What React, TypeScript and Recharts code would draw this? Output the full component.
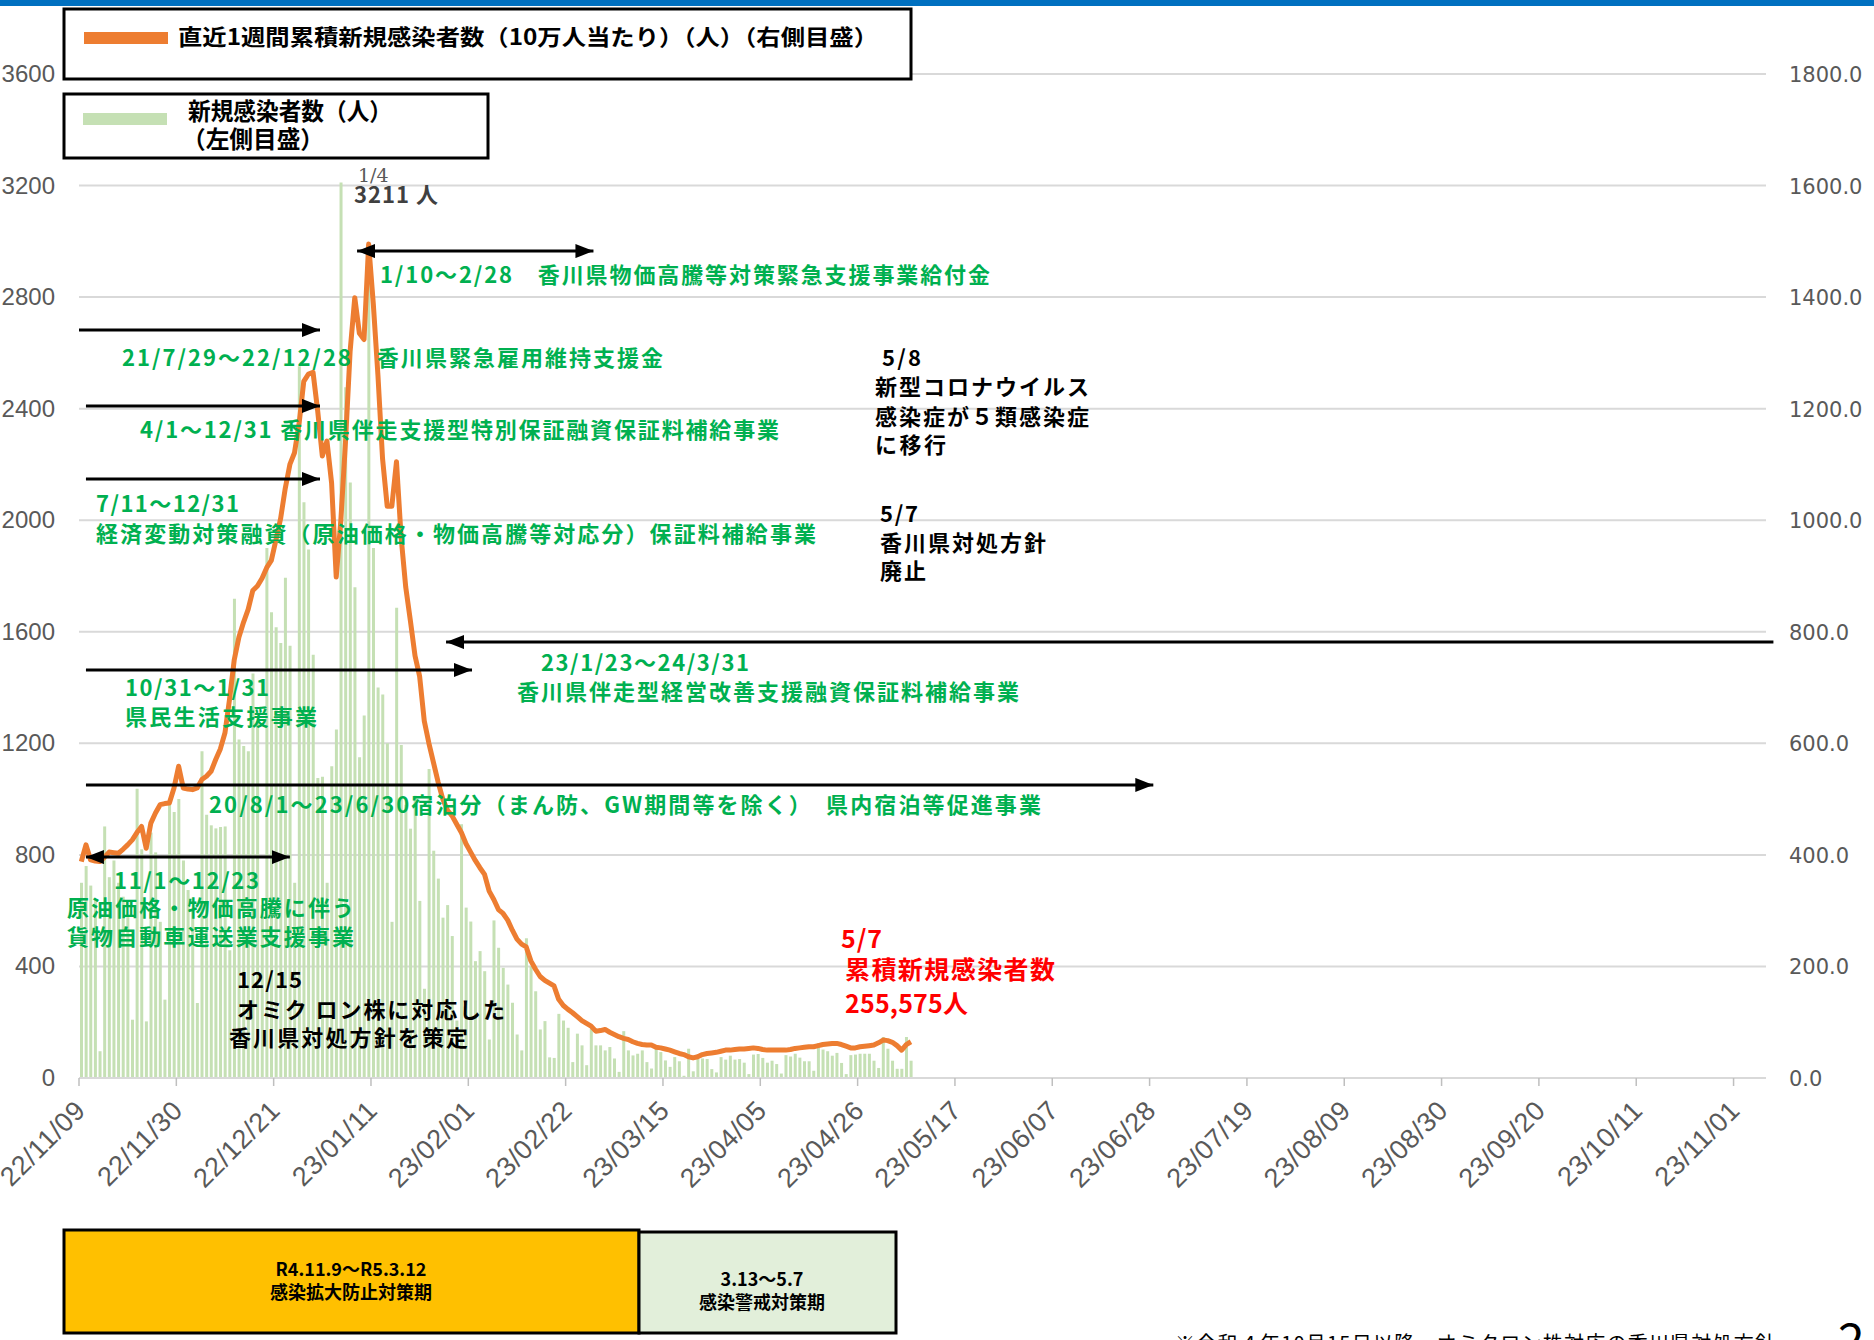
import React from 'react';
import { ComposedChart, Bar, Line, XAxis, YAxis, CartesianGrid, ReferenceLine } from 'recharts';

// day index 0 = 22/11/09
const tickDays = [0, 21, 42, 63, 84, 105, 126, 147, 168, 189, 210, 231, 252, 273, 294, 315, 336, 357];
const tickLabels = [
    '22/11/09', '22/11/30', '22/12/21', '23/01/11', '23/02/01', '23/02/22', '23/03/15', '23/04/05', '23/04/26',
    '23/05/17', '23/06/07', '23/06/28', '23/07/19', '23/08/09', '23/08/30', '23/09/20', '23/10/11', '23/11/01',
];
const leftTicks = [0, 400, 800, 1200, 1600, 2000, 2400, 2800, 3200, 3600];
const rightTicks = [0, 200, 400, 600, 800, 1000, 1200, 1400, 1600, 1800];

// 新規感染者数（人） 22/11/09 - 23/05/07
const cases = [
    700, 760, 690, 640, 96, 902, 720, 780, 700, 650,
    580, 209, 1037, 820, 203, 880, 809, 560, 281, 986,
    954, 1000, 780, 674, 600, 269, 1172, 944, 906, 895,
    900, 902, 458, 1718, 1214, 1190, 1172, 1450, 1280, 620,
    1900, 1670, 1616, 1560, 1794, 1550, 700, 2552, 2064, 1895,
    1518, 1076, 1080, 700, 1118, 1250, 3211, 2477, 2135, 1760,
    1150, 1300, 2950, 1900, 1400, 1375, 1200, 560, 1686, 1194,
    980, 894, 1012, 635, 320, 1108, 815, 715, 575, 620,
    509, 206, 910, 611, 561, 419, 455, 383, 138, 565,
    467, 395, 335, 270, 156, 99, 501, 401, 311, 174,
    204, 74, 72, 230, 206, 180, 57, 159, 117, 46,
    177, 117, 117, 99, 111, 70, 22, 168, 99, 81,
    87, 99, 57, 34, 105, 93, 63, 40, 75, 60,
    8, 105, 24, 68, 70, 68, 32, 20, 75, 66,
    80, 66, 68, 55, 14, 84, 86, 72, 55, 62,
    50, 16, 82, 77, 87, 73, 60, 60, 26, 125,
    102, 96, 80, 90, 54, 14, 82, 84, 87, 87,
    87, 62, 36, 147, 105, 62, 33, 33, 147, 62,
];

// 直近1週間累積新規感染者数（10万人当たり）
const rate = [
    388, 418, 391, 389, 388, 396, 405, 404, 403, 410,
    418, 427, 440, 451, 412, 457, 475, 490, 492, 493,
    520, 559, 520, 518, 517, 520, 535, 541, 550, 571,
    590, 619, 680, 750, 790, 817, 840, 874, 882, 896,
    915, 928, 965, 1003, 1057, 1100, 1121, 1174, 1249, 1262,
    1265, 1196, 1115, 1142, 1067, 898, 1000, 1140, 1303, 1399,
    1335, 1324, 1495, 1388, 1260, 1110, 1025, 1025, 1105, 970,
    880, 820, 757, 720, 640, 600, 565, 530, 500, 480,
    470, 455, 440, 420, 405, 390, 377, 365, 335, 320,
    302, 295, 283, 265, 249, 240, 235, 210, 195, 182,
    175, 170, 165, 141, 130, 123, 117, 110, 103, 98,
    93, 84, 85, 87, 82, 78, 74, 71, 69, 65,
    62, 60, 59, 59, 55, 54, 52, 50, 47, 44,
    42, 38, 36, 38, 42, 44, 45, 46, 48, 50,
    50, 51, 52, 52, 53, 54, 53, 51, 50, 50,
    50, 50, 50, 51, 53, 54, 55, 56, 56, 58,
    60, 61, 62, 62, 60, 57, 54, 54, 56, 57,
    58, 59, 63, 68, 67, 64, 58, 50, 60, 65,
];

const data = cases.map((v, i) => ({ day: i + 0.5, cases: v, rate: rate[i] }));

// support-program arrows, in axis units (day, left scale)
const arrows = [
    { x1: 60, x2: 111, y: 2965, start: true, end: true },
    { x1: 0, x2: 52, y: 2682, start: false, end: true },
    { x1: 1.5, x2: 52, y: 2410, start: false, end: true },
    { x1: 1.5, x2: 52, y: 2148, start: false, end: true },
    { x1: 79.2, x2: 365.6, y: 1563, start: true, end: false },
    { x1: 1.5, x2: 84.8, y: 1463, start: false, end: true },
    { x1: 1.5, x2: 231.8, y: 1051, start: false, end: true },
    { x1: 1.5, x2: 45.5, y: 792, start: true, end: true },
];

const GREEN = '#00B050';
const JP = "'Noto Sans CJK JP', 'Noto Sans', sans-serif";

type Note = { t: string; x: number; cy: number; w: number; fs: number; c: string; fw?: number; adj?: string };

const notes: Note[] = [
    { t: '1/10～2/28　香川県物価高騰等対策緊急支援事業給付金', x: 380, cy: 275, w: 610, fs: 22, c: GREEN, fw: 700 },
    { t: '21/7/29～22/12/28　香川県緊急雇用維持支援金', x: 122, cy: 358, w: 541, fs: 22, c: GREEN, fw: 700 },
    { t: '4/1～12/31 香川県伴走支援型特別保証融資保証料補給事業', x: 140, cy: 430, w: 639, fs: 22, c: GREEN, fw: 700 },
    { t: '7/11～12/31', x: 96, cy: 504, w: 143, fs: 22, c: GREEN, fw: 700 },
    { t: '経済変動対策融資（原油価格・物価高騰等対応分）保証料補給事業', x: 96, cy: 534, w: 720, fs: 22, c: GREEN, fw: 700 },
    { t: '23/1/23～24/3/31', x: 541, cy: 663, w: 208, fs: 22, c: GREEN, fw: 700 },
    { t: '香川県伴走型経営改善支援融資保証料補給事業', x: 517, cy: 692, w: 502, fs: 22, c: GREEN, fw: 700 },
    { t: '10/31～1/31', x: 125, cy: 688, w: 144, fs: 22, c: GREEN, fw: 700 },
    { t: '県民生活支援事業', x: 125, cy: 717, w: 192, fs: 22, c: GREEN, fw: 700 },
    { t: '20/8/1～23/6/30宿泊分（まん防、GW期間等を除く）　県内宿泊等促進事業', x: 209, cy: 805, w: 832, fs: 22, c: GREEN, fw: 700 },
    { t: '11/1～12/23', x: 114, cy: 881, w: 145, fs: 22, c: GREEN, fw: 700 },
    { t: '原油価格・物価高騰に伴う', x: 67, cy: 908, w: 287, fs: 22, c: GREEN, fw: 700 },
    { t: '貨物自動車運送業支援事業', x: 67, cy: 937, w: 287, fs: 22, c: GREEN, fw: 700 },
    { t: '12/15', x: 237, cy: 980, w: 65, fs: 22, c: '#000', fw: 700 },
    { t: 'オミク ロン株に対応した', x: 237, cy: 1010, w: 268, fs: 22, c: '#000', fw: 700 },
    { t: '香川県対処方針を策定', x: 229, cy: 1038, w: 239, fs: 22, c: '#000', fw: 700 },
    { t: '5/8', x: 882, cy: 358, w: 39, fs: 22, c: '#000', fw: 700 },
    { t: '新型コロナウイルス', x: 875, cy: 387, w: 214, fs: 22, c: '#000', fw: 700 },
    { t: '感染症が５類感染症', x: 875, cy: 417, w: 214, fs: 22, c: '#000', fw: 700 },
    { t: 'に移行', x: 875, cy: 445, w: 71, fs: 22, c: '#000', fw: 700 },
    { t: '5/7', x: 880, cy: 514, w: 38, fs: 22, c: '#000', fw: 700 },
    { t: '香川県対処方針', x: 880, cy: 543, w: 166, fs: 22, c: '#000', fw: 700 },
    { t: '廃止', x: 880, cy: 571, w: 46, fs: 22, c: '#000', fw: 700 },
    { t: '5/7', x: 841, cy: 939, w: 41, fs: 25, c: '#FF0000', fw: 700 },
    { t: '累積新規感染者数', x: 845, cy: 970, w: 210, fs: 25, c: '#FF0000', fw: 700 },
    { t: '255,575人', x: 845, cy: 1004, w: 123, fs: 25, c: '#FF0000', fw: 700 },
    { t: '3211 人', x: 354, cy: 195, w: 84, fs: 22, c: '#404040', fw: 700 },
    { t: '直近1週間累積新規感染者数（10万人当たり）（人）（右側目盛）', x: 178, cy: 37, w: 700, fs: 22, c: '#000', fw: 700, adj: 'spacingAndGlyphs' },
    { t: '新規感染者数（人）', x: 188, cy: 111, w: 204, fs: 24, c: '#000', fw: 700, adj: 'spacingAndGlyphs' },
    { t: '（左側目盛）', x: 182, cy: 139, w: 142, fs: 24, c: '#000', fw: 700, adj: 'spacingAndGlyphs' },
];

const XTick = (props: any) => {
    const { x, y, payload } = props;
    const label = tickLabels[tickDays.indexOf(payload.value)];
    return (
        <text
            transform={`translate(${x + 8},${y + 26}) rotate(-45)`}
            textAnchor="end"
            fontSize={27}
            letterSpacing={0.5}
            fontFamily="'Liberation Sans', Arial, sans-serif"
            fill="#595959"
        >
            {label}
        </text>
    );
};

const LeftTick = (props: any) => {
    const { x, y, payload } = props;
    return (
        <text x={x - 24} y={y + 8} textAnchor="end" fontSize={24} fontFamily="'Liberation Sans', Arial, sans-serif" fill="#595959">
            {payload.value}
        </text>
    );
};

const RightTick = (props: any) => {
    const { x, y, payload } = props;
    return (
        <text x={x + 23} y={y + 8} textAnchor="start" fontSize={21} fontFamily="'DejaVu Sans', sans-serif" fill="#595959">
            {payload.value.toFixed(1)}
        </text>
    );
};

const arrowShape = (a: { start: boolean; end: boolean }) => (p: any) => (
    <line
        x1={p.x1}
        y1={p.y1}
        x2={p.x2}
        y2={p.y2}
        stroke="#000"
        strokeWidth={3}
        markerStart={a.start ? 'url(#arrowHead)' : undefined}
        markerEnd={a.end ? 'url(#arrowHead)' : undefined}
    />
);

export default function App() {
    return (
        <div style={{ position: 'absolute', left: 0, top: 0, width: 1874, height: 1340, overflow: 'hidden', background: '#fff' }}>
            <svg width={0} height={0} style={{ position: 'absolute' }}>
                <defs>
                    <marker id="arrowHead" markerUnits="userSpaceOnUse" markerWidth={20} markerHeight={14} refX={18} refY={7} orient="auto-start-reverse">
                        <path d="M0,0 L18,7 L0,14 z" fill="#000" />
                    </marker>
                </defs>
            </svg>
            <ComposedChart width={1874} height={1340} data={data} margin={{ top: 74, right: 0, bottom: 162, left: 0 }}>
                <CartesianGrid vertical={false} stroke="#D9D9D9" strokeWidth={2} yAxisId="left" />
                <XAxis
                    dataKey="day"
                    type="number"
                    domain={[0, 364]}
                    ticks={tickDays}
                    interval={0}
                    height={100}
                    tick={<XTick />}
                    tickSize={8}
                    tickMargin={0}
                    tickLine={{ stroke: '#BFBFBF', strokeWidth: 1.5 }}
                    axisLine={{ stroke: '#D9D9D9', strokeWidth: 2 }}
                    allowDataOverflow
                />
                <YAxis
                    yAxisId="left"
                    orientation="left"
                    width={79}
                    domain={[0, 3600]}
                    ticks={leftTicks}
                    interval={0}
                    tick={<LeftTick />}
                    tickSize={0}
                    tickMargin={0}
                    axisLine={false}
                    tickLine={false}
                />
                <YAxis
                    yAxisId="right"
                    orientation="right"
                    width={108}
                    domain={[0, 1800]}
                    ticks={rightTicks}
                    interval={0}
                    tick={<RightTick />}
                    tickSize={0}
                    tickMargin={0}
                    axisLine={false}
                    tickLine={false}
                />
                <Bar yAxisId="left" dataKey="cases" fill="#C5E0B4" barSize={3} isAnimationActive={false} />
                <Line
                    yAxisId="right"
                    dataKey="rate"
                    type="linear"
                    stroke="#ED7D31"
                    strokeWidth={5}
                    strokeLinejoin="round"
                    dot={false}
                    activeDot={false}
                    isAnimationActive={false}
                />
                {arrows.map((a, i) => (
                    <ReferenceLine
                        key={`arrow-${i}`}
                        yAxisId="left"
                        ifOverflow="visible"
                        segment={[{ x: a.x1, y: a.y }, { x: a.x2, y: a.y }]}
                        shape={arrowShape(a)}
                    />
                ))}
            </ComposedChart>

            <svg width={1874} height={1340} style={{ position: 'absolute', left: 0, top: 0, pointerEvents: 'none' }}>
                <rect x={0} y={0} width={1874} height={6} fill="#0070C0" />

                {/* legend boxes */}
                <rect x={64} y={9} width={847} height={70} fill="#fff" stroke="#000" strokeWidth={3} />
                <rect x={84} y={32} width={84} height={12} fill="#ED7D31" />
                <rect x={64} y={94} width={424} height={64} fill="#fff" stroke="#000" strokeWidth={3} />
                <rect x={83} y={113} width={84} height={12} fill="#C5E0B4" />

                <text x={358} y={182} fontSize={19} fontFamily="'DejaVu Serif', serif" fill="#595959">1/4</text>

                {notes.map((n, i) => (
                    <text
                        key={`note-${i}`}
                        x={n.x}
                        y={n.cy + n.fs * 0.36}
                        fontSize={n.fs}
                        fontWeight={n.fw || 400}
                        fontFamily={JP}
                        fill={n.c}
                        textLength={n.w}
                        lengthAdjust={n.adj || 'spacing'}
                    >
                        {n.t}
                    </text>
                ))}

                {/* phase boxes */}
                <rect x={64} y={1230} width={575} height={103} fill="#FFC000" stroke="#000" strokeWidth={3} />
                <rect x={639} y={1232} width={257} height={101} fill="#E2EFDA" stroke="#000" strokeWidth={3} />
                <text x={351} y={1276} textAnchor="middle" fontSize={18} fontWeight={700} fontFamily={JP} fill="#000">R4.11.9～R5.3.12</text>
                <text x={351} y={1299} textAnchor="middle" fontSize={18} fontWeight={700} fontFamily={JP} fill="#000">感染拡大防止対策期</text>
                <text x={762} y={1286} textAnchor="middle" fontSize={18} fontWeight={700} fontFamily={JP} fill="#000">3.13～5.7</text>
                <text x={762} y={1309} textAnchor="middle" fontSize={18} fontWeight={700} fontFamily={JP} fill="#000">感染警戒対策期</text>

                <text x={1175} y={1351} fontSize={20} fontFamily={JP} fill="#000" textLength={600} lengthAdjust="spacing">
                    ※令和４年10月15日以降、オミクロン株対応の香川県対処方針
                </text>
                <text x={1838} y={1358} fontSize={48} fontFamily={JP} fill="#000">2</text>
            </svg>
        </div>
    );
}
